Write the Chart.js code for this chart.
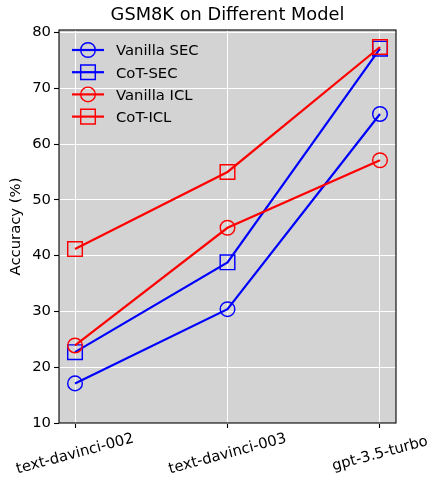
<!DOCTYPE html>
<html>
<head>
<meta charset="utf-8">
<script src="https://cdn.jsdelivr.net/npm/chart.js@4.4.1/dist/chart.umd.min.js"></script>
<style>
  html, body { margin: 0; padding: 0; background: #fff; }
  #wrap { width: 431px; height: 479px; }
</style>
</head>
<body>
<div id="wrap"><canvas id="chart"></canvas></div>
<script>
const models = ['text-davinci-002', 'text-davinci-003', 'gpt-3.5-turbo'];
const vanillaSec = [17.1, 30.4, 65.4];
const cotSec = [22.7, 38.8, 77.1];
const vanillaIcl = [23.9, 45.0, 57.1];
const cotIcl = [41.2, 55.0, 77.4];
const yTicks = [10, 20, 30, 40, 50, 60, 70, 80];

const FONT = "'DejaVu Sans', sans-serif";
const FONT_SIZE = 14.8;
const TITLE_SIZE = 17.8;
const LINE_W = 2.2;
const EDGE_W = 1.45;
const MARK = 7.3;

const series = [
  { name: 'Vanilla SEC', values: vanillaSec, color: '#0000ff', marker: 'circle' },
  { name: 'CoT-SEC', values: cotSec, color: '#0000ff', marker: 'rect' },
  { name: 'Vanilla ICL', values: vanillaIcl, color: '#ff0000', marker: 'circle' },
  { name: 'CoT-ICL', values: cotIcl, color: '#ff0000', marker: 'rect' },
];

const markerRadius = (m) => (m === 'rect' ? MARK / Math.SQRT1_2 : MARK);

// matplotlib-like hollow marker for the legend
const drawMarker = (ctx, m, x, y, color) => {
  ctx.save();
  ctx.strokeStyle = color;
  ctx.lineWidth = EDGE_W;
  ctx.beginPath();
  if (m === 'rect') ctx.rect(x - MARK, y - MARK, MARK * 2, MARK * 2);
  else ctx.arc(x, y, MARK, 0, Math.PI * 2);
  ctx.stroke();
  ctx.restore();
};

const backdrop = {
  id: 'backdrop',
  beforeDraw(chart) {
    const { ctx, chartArea: a } = chart;
    ctx.save();
    ctx.fillStyle = '#d3d3d3';
    ctx.fillRect(a.left, a.top, a.right - a.left, a.bottom - a.top);
    ctx.restore();
  },
};

const decorations = {
  id: 'decorations',
  afterDraw(chart) {
    const { ctx, chartArea: a } = chart;
    const xs = chart.scales.x;
    ctx.save();

    // spines
    ctx.strokeStyle = '#000';
    ctx.lineWidth = 1.1;
    ctx.strokeRect(a.left, a.top, a.right - a.left, a.bottom - a.top);

    // title
    ctx.fillStyle = '#000';
    ctx.font = `${TITLE_SIZE}px ${FONT}`;
    ctx.textAlign = 'center';
    ctx.textBaseline = 'alphabetic';
    ctx.fillText('GSM8K on Different Model', (a.left + a.right) / 2, 20);

    // rotated category labels, centred on the ticks
    ctx.font = `${FONT_SIZE}px ${FONT}`;
    ctx.textBaseline = 'middle';
    models.forEach((label, i) => {
      ctx.save();
      ctx.translate(xs.getPixelForValue(i), a.bottom + 31);
      ctx.rotate(-15 * Math.PI / 180);
      ctx.fillText(label, 0, 0);
      ctx.restore();
    });

    // legend
    ctx.textAlign = 'left';
    ctx.textBaseline = 'alphabetic';
    series.forEach((s, i) => {
      const y = 50 + i * 22.2;
      ctx.strokeStyle = s.color;
      ctx.lineWidth = LINE_W;
      ctx.beginPath();
      ctx.moveTo(72, y);
      ctx.lineTo(104, y);
      ctx.stroke();
      drawMarker(ctx, s.marker, 88, y, s.color);
      ctx.fillStyle = '#000';
      ctx.fillText(s.name, 116, y + 5.3);
    });
    ctx.restore();
  },
};

new Chart(document.getElementById('chart'), {
  type: 'line',
  data: {
    datasets: series.map((s, i) => ({
      label: s.name,
      data: s.values.map((v, j) => ({ x: j, y: v })),
      borderColor: s.color,
      borderWidth: LINE_W,
      backgroundColor: 'rgba(0,0,0,0)',
      pointStyle: s.marker,
      pointRadius: markerRadius(s.marker),
      pointBorderWidth: EDGE_W,
      pointBorderColor: s.color,
      pointBackgroundColor: 'rgba(0,0,0,0)',
      tension: 0,
      order: series.length - i,
    })),
  },
  options: {
    responsive: true,
    maintainAspectRatio: false,
    animation: false,
    events: [],
    layout: { padding: { top: 30, right: 35, left: 0, bottom: 0 } },
    plugins: {
      legend: { display: false },
      title: { display: false },
      tooltip: { enabled: false },
    },
    scales: {
      x: {
        type: 'linear',
        min: -0.105,
        max: 2.105,
        afterBuildTicks: (scale) => {
          scale.ticks = models.map((m, i) => ({ value: i }));
        },
        afterFit: (scale) => {
          scale.height = 56;
        },
        ticks: { display: false },
        grid: {
          color: '#ffffff',
          lineWidth: 1,
          tickColor: '#000',
          tickLength: 5,
          tickWidth: 1.1,
        },
        border: { display: false },
      },
      y: {
        min: 10,
        max: 80.45,
        afterBuildTicks: (scale) => {
          scale.ticks = yTicks.map((v) => ({ value: v }));
        },
        afterFit: (scale) => {
          scale.width = 59;
        },
        ticks: {
          color: '#000',
          padding: 3,
          font: { family: FONT, size: FONT_SIZE },
        },
        grid: {
          color: '#ffffff',
          lineWidth: 1,
          tickColor: '#000',
          tickLength: 5,
          tickWidth: 1.1,
        },
        border: { display: false },
        title: {
          display: true,
          text: 'Accuracy (%)',
          color: '#000',
          padding: { top: 7.4, bottom: 0 },
          font: { family: FONT, size: FONT_SIZE },
        },
      },
    },
  },
  plugins: [backdrop, decorations],
});
</script>
</body>
</html>
